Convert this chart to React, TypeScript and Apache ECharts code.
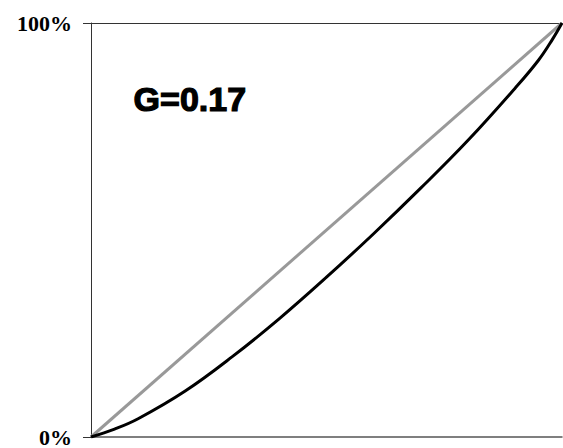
import React, { useEffect, useRef } from "react";
import * as echarts from "echarts";

// Cumulative share of population (%)
const lorenzX = [0, 5, 10, 20, 30, 40, 50, 60, 70, 80, 90, 95, 98, 100];
// Cumulative share of income (%)
const lorenzY = [0, 1.9, 4.4, 11.1, 19.4, 28.6, 38.6, 49.1, 60.1, 71.6, 84.2, 91.0, 96.1, 100];
const equalityX = [0, 100];
const equalityY = [0, 100];
const yTicks = [0, 100];
const giniLabel = "G=0.17";

export default function App() {
  const ref = useRef<HTMLDivElement>(null);
  useEffect(() => {
    if (!ref.current) return;
    const chart = echarts.init(ref.current, undefined, { renderer: "svg" });
    chart.setOption({
      animation: false,
      backgroundColor: "#ffffff",
      grid: { left: 91, top: 23, right: 1, bottom: 7, containLabel: false },
      xAxis: [
        {
          type: "value",
          min: 0,
          max: 100,
          position: "bottom",
          axisLine: { show: true, lineStyle: { color: "#555", width: 1.5 } },
          axisTick: { show: false },
          axisLabel: { show: false },
          splitLine: { show: false },
        },
        {
          type: "value",
          min: 0,
          max: 100,
          position: "top",
          axisLine: { show: true, lineStyle: { color: "#333", width: 1 } },
          axisTick: { show: false },
          axisLabel: { show: false },
          splitLine: { show: false },
        },
      ],
      yAxis: {
        type: "value",
        min: yTicks[0],
        max: yTicks[yTicks.length - 1],
        interval: 100,
        axisLine: { show: true, lineStyle: { color: "#333", width: 1 } },
        axisTick: { show: true, length: 8, lineStyle: { color: "#333", width: 1 } },
        axisLabel: {
          margin: 19,
          formatter: "{value}%",
          fontFamily: "Liberation Serif",
          fontWeight: "bold",
          fontSize: 22,
          color: "#000",
        },
        splitLine: { show: false },
      },
      series: [
        {
          type: "line",
          data: equalityX.map((x, i) => [x, equalityY[i]]),
          showSymbol: false,
          lineStyle: { color: "#999999", width: 3 },
          z: 2,
        },
        {
          type: "line",
          data: lorenzX.map((x, i) => [x, lorenzY[i]]),
          showSymbol: false,
          smooth: 0.4,
          lineStyle: { color: "#000000", width: 3 },
          z: 3,
        },
      ],
      graphic: [
        {
          type: "text",
          left: 133,
          top: 81,
          style: {
            text: giniLabel,
            fontFamily: "Liberation Sans",
            fontWeight: "bold",
            fontSize: 34,
            fill: "#000",
            stroke: "#000",
            lineWidth: 1.2,
          },
        },
      ],
    });
    return () => chart.dispose();
  }, []);
  return (
    <div
      ref={ref}
      style={{ position: "fixed", left: 0, top: 0, width: 563, height: 448 }}
    />
  );
}
